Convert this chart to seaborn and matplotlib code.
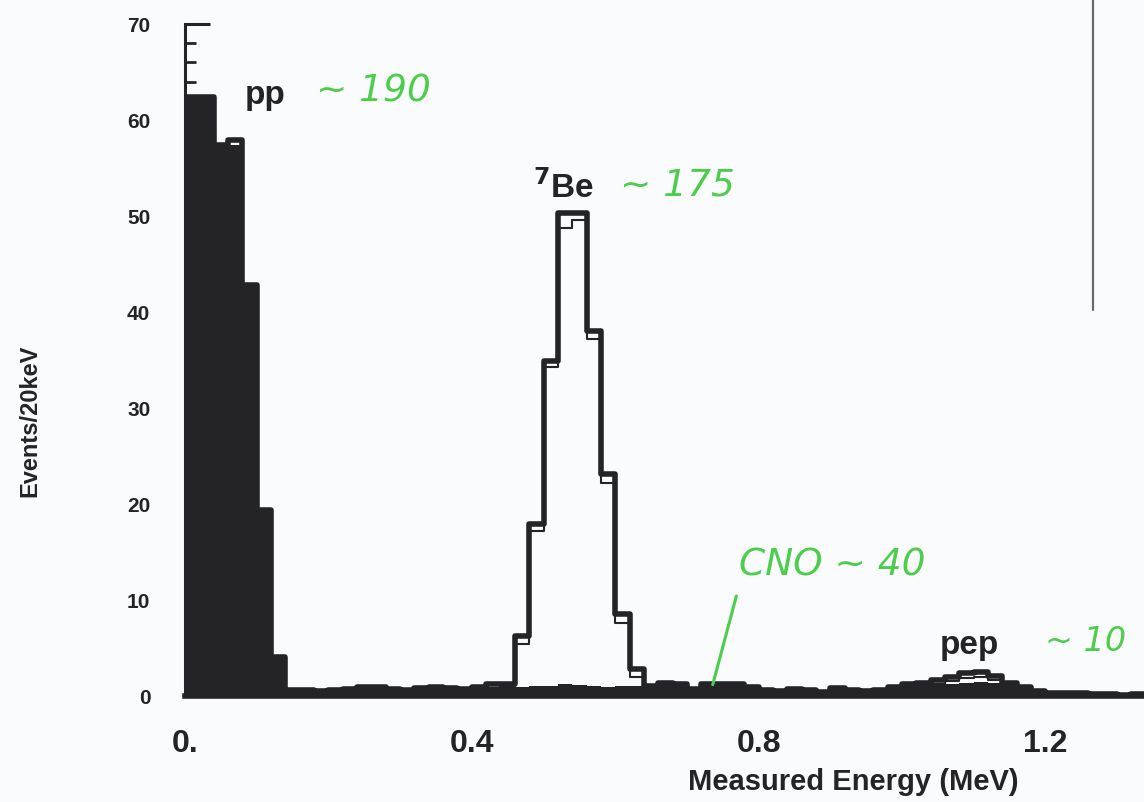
import numpy as np
import pandas as pd
import matplotlib
matplotlib.use("Agg")
import matplotlib.pyplot as plt
import seaborn as sns
from matplotlib.lines import Line2D
from matplotlib.ticker import MultipleLocator

# ---------------- data (Events / 20 keV) ----------------
bin_width = 0.02
e_min, e_max = 0.0, 1.34
bin_centers = np.round(np.arange(e_min, e_max - 1e-9, bin_width) + bin_width / 2, 3)

# filled histogram (pp + flat background)
filled_counts = [
    62.4, 62.4, 57.4, 57.4, 42.8, 19.4, 4.1,                                   # pp
    0.6, 0.6, 0.5, 0.6, 0.7, 0.9, 0.9, 0.7, 0.6, 0.8, 0.9, 0.8, 0.7,           # 0.14-0.40
    0.8, 0.9, 1.0, 0.9, 1.0, 1.0, 1.2, 1.1, 1.0, 0.9, 1.0, 1.0, 1.0,           # 0.40-0.66
    1.4, 1.2, 0.7, 1.2, 1.3, 1.2, 0.9, 0.6, 0.5, 0.7, 0.6, 0.4, 0.8, 0.6, 0.5, # 0.66-0.96
    0.6, 0.9, 1.0, 1.0, 1.1, 1.3, 1.4, 1.5, 1.4, 1.2, 0.9, 0.6, 0.4, 0.3, 0.3,
    0.2, 0.2, 0.1, 0.2,                                                         # 0.96-1.34
]

# open (outlined) histogram: total spectrum
total_counts = [
    62.4, 62.4, 57.4, 57.9, 42.8, 19.4, 4.1,
    0.6, 0.6, 0.5, 0.6, 0.7, 0.9, 0.9, 0.7, 0.6, 0.8, 0.9, 0.8, 0.7,
    0.9, 1.2, 1.3, 6.2, 17.9, 34.9, 50.3, 50.3, 38.0, 23.1, 8.5, 2.8, 1.0,
    1.4, 1.2, 0.7, 1.2, 1.3, 1.2, 0.9, 0.6, 0.5, 0.7, 0.6, 0.4, 0.8, 0.6, 0.5,
    0.6, 0.9, 1.3, 1.4, 1.7, 2.0, 2.4, 2.5, 2.1, 1.4, 0.9, 0.5, 0.3, 0.3, 0.3,
    0.2, 0.2, 0.1, 0.2,
]

# inner (thin) outline: single-component spectrum
inner_counts = [
    0, 0, 0, 0, 0, 0, 0,
    0, 0, 0, 0, 0, 0, 0, 0, 0, 0, 0, 0, 0,
    0, 0, 1.0, 5.4, 17.2, 34.3, 48.8, 49.6, 37.2, 22.2, 7.6, 2.0, 0,
    0, 0, 0, 0, 0, 0, 0, 0, 0, 0, 0, 0, 0, 0, 0,
    0, 0, 1.0, 1.0, 1.3, 1.6, 1.9, 2.0, 1.7, 1.0, 0, 0, 0, 0, 0,
    0, 0, 0, 0,
]

y_ticks = [0, 10, 20, 30, 40, 50, 60, 70]
x_ticks = [0.0, 0.4, 0.8, 1.2]
x_tick_labels = ["0.", "0.4", "0.8", "1.2"]

df = pd.DataFrame({
    "energy": bin_centers,
    "filled": filled_counts,
    "total": total_counts,
    "inner": inner_counts,
})

# ---------------- style ----------------
sns.set_theme(style="white")
plt.rcParams["font.family"] = ["Liberation Sans", "DejaVu Sans"]
plt.rcParams["mathtext.default"] = "bf"

ink = "#242428"
green = "#4ccd4c"
paper = "#fafbfd"

fig = plt.figure(figsize=(11.44, 8.02), dpi=100, facecolor=paper)
ax = fig.add_axes([185 / 1144, (802 - 696) / 802, (1144 - 185) / 1144, (696 - 24) / 802])
ax.set_facecolor(paper)

hist_kw = dict(x="energy", binwidth=bin_width, binrange=(e_min, e_max), element="step", ax=ax)
sns.histplot(data=df, weights="filled", fill=True, color=ink, alpha=1.0, linewidth=0, **hist_kw)
sns.histplot(data=df, weights="total", fill=False, color=ink, linewidth=4.0, **hist_kw)
sns.histplot(data=df, weights="inner", fill=False, color=ink, linewidth=1.5, **hist_kw)

ax.set_xlim(0, 1.3375)
ax.set_ylim(0, 70)

for s in ["top", "right"]:
    ax.spines[s].set_visible(False)
ax.spines["left"].set_color(ink)
ax.spines["left"].set_linewidth(2.2)
ax.spines["bottom"].set_color(ink)
ax.spines["bottom"].set_linewidth(4.0)

ax.set_yticks(y_ticks)
ax.set_yticklabels([str(v) for v in y_ticks])
ax.yaxis.set_minor_locator(MultipleLocator(2))
ax.tick_params(axis="y", which="major", direction="in", length=18, width=2.2,
               color=ink, pad=25, labelsize=15, labelcolor=ink, left=True)
ax.tick_params(axis="y", which="minor", direction="in", length=8, width=2.0,
               color=ink, left=True)
for t in ax.get_yticklabels():
    t.set_fontweight("bold")

ax.set_xticks(x_ticks)
ax.set_xticklabels(x_tick_labels)
ax.tick_params(axis="x", which="major", length=0, pad=24, labelsize=23, labelcolor=ink)
for t in ax.get_xticklabels():
    t.set_fontweight("bold")

ax.set_xlabel("Measured Energy (MeV)", fontsize=21, fontweight="bold", color=ink,
              va="center")
ax.xaxis.set_label_coords(0.697, -0.128)
ax.set_ylabel("Events/20keV", fontsize=17, fontweight="bold", color=ink, va="center")
ax.yaxis.set_label_coords(-0.162, 0.41)

# ---------------- annotations ----------------
hand = dict(color=green, fontsize=27, style="italic", fontfamily="DejaVu Sans",
            fontweight="light", va="center", ha="left")
lab = dict(color=ink, fontsize=24, fontweight="bold", va="center", ha="left")

ax.text(0.083, 62.6, "pp", **lab)
ax.text(0.183, 63.0, "~ 190", **hand)
ax.text(0.485, 53.0, r"$^{7}$Be", **lab)
ax.text(0.607, 53.2, "~ 175", **hand)
ax.text(0.773, 13.6, "CNO ~ 40", **hand)
ax.annotate("", xy=(0.735, 0.9), xytext=(0.770, 10.7),
            arrowprops=dict(arrowstyle="-", color=green, lw=2.2))
ax.text(1.053, 5.3, "pep", **lab)
hand_small = dict(hand, fontsize=24)
ax.text(1.200, 5.7, "~ 10", clip_on=False, **hand_small)

# scan frame line at upper right
fig.add_artist(Line2D([1093 / 1144, 1093 / 1144], [1 - 310 / 802, 1.0],
                      transform=fig.transFigure, color="#6a6a72", lw=1.6))

fig.savefig("out.png", dpi=100, facecolor=paper)
